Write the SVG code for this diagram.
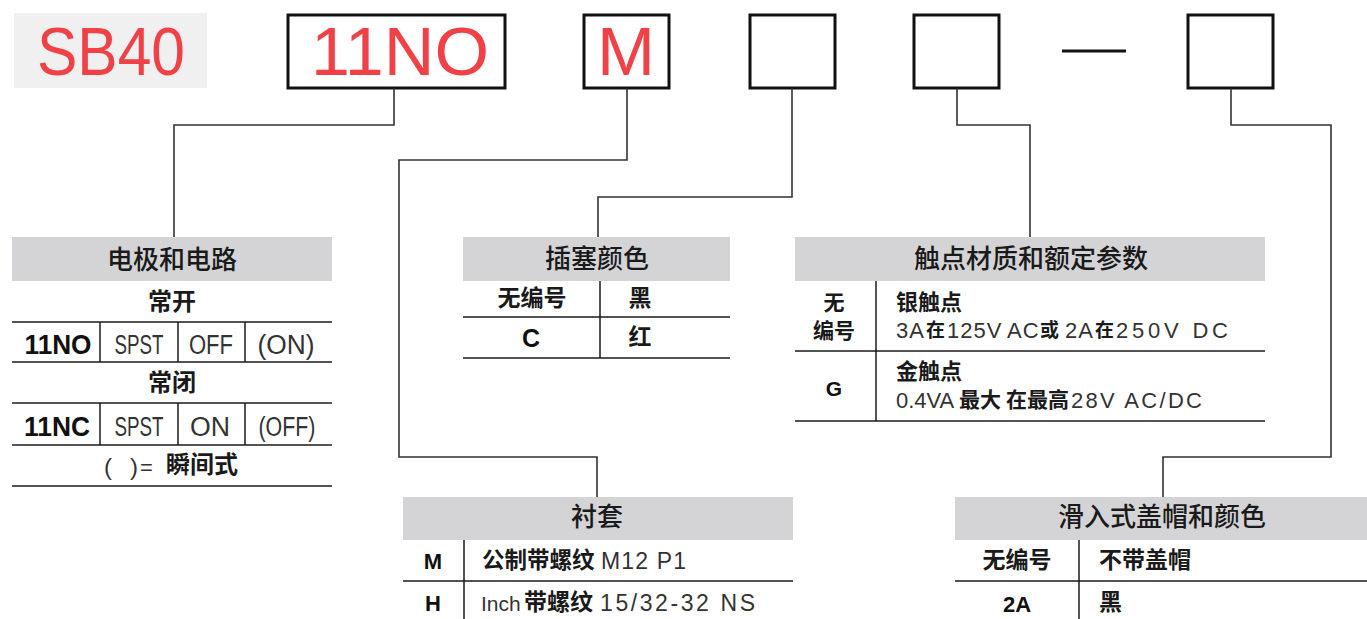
<svg xmlns="http://www.w3.org/2000/svg" width="1367" height="619" viewBox="0 0 1367 619">
<style>
.bg{fill:#ffffff}
.hdr{fill:#d4d4d6}
.ln{stroke:#1a1a1a;stroke-width:1.5;fill:none}
.cn{fill:none;stroke:#333;stroke-width:1.6}
.box{fill:#fff;stroke:#111;stroke-width:3}
.red{font-family:"Liberation Sans",Arial,sans-serif;font-size:68px;fill:#ef4146}
.h{font-family:"Noto Sans CJK SC","Noto Sans",sans-serif;font-size:26px;font-weight:500;fill:#1a1a1a;text-anchor:middle}
.cj{font-family:"Noto Sans CJK SC","Noto Sans",sans-serif;font-weight:700;fill:#1a1a1a}
.lt{font-family:"Liberation Sans",Arial,sans-serif;fill:#333}
.bd{font-family:"Liberation Sans",Arial,sans-serif;font-weight:700;fill:#111}
.m{text-anchor:middle}
</style>
<rect class="bg" x="0" y="0" width="1367" height="619"/>

<g id="code">
  <g id="code-sb40">
    <rect x="14" y="13" width="193" height="75" fill="#f0f0f0"/>
    <text class="red" x="37" y="75" textLength="148" lengthAdjust="spacingAndGlyphs">SB40</text>
  </g>
  <g id="code-11no">
    <rect class="box" x="288" y="15" width="217" height="73"/>
    <text class="red" x="311" y="75" textLength="178" lengthAdjust="spacingAndGlyphs">11NO</text>
  </g>
  <g id="code-m">
    <rect class="box" x="584" y="15" width="85" height="73"/>
    <text class="red" x="597" y="75" textLength="58" lengthAdjust="spacingAndGlyphs">M</text>
  </g>
  <g id="code-3"><rect class="box" x="750" y="15" width="85" height="73"/></g>
  <g id="code-4"><rect class="box" x="914" y="15" width="85" height="73"/></g>
  <g id="code-dash"><rect x="1062" y="49.5" width="64" height="3" fill="#111"/></g>
  <g id="code-5"><rect class="box" x="1188" y="15" width="85" height="73"/></g>
</g>

<g id="connectors">
  <path class="cn" d="M394 88.5V125H174V237"/>
  <path class="cn" d="M627 88.5V160H399V457H597V497"/>
  <path class="cn" d="M792 88.5V197H598V237"/>
  <path class="cn" d="M957 88.5V125H1030V237"/>
  <path class="cn" d="M1231 88.5V125H1331V457H1163V497"/>
</g>

<g id="table-poles">
  <rect class="hdr" x="12" y="237" width="320" height="44"/>
  <text class="h" x="172" y="269">电极和电路</text>
  <text class="cj m" x="172" y="310" font-size="24">常开</text>
  <line class="ln" x1="12" y1="322" x2="332" y2="322"/>
  <line class="ln" x1="100" y1="322" x2="100" y2="362"/>
  <line class="ln" x1="178" y1="322" x2="178" y2="362"/>
  <line class="ln" x1="245" y1="322" x2="245" y2="362"/>
  <text class="bd m" x="58" y="354" font-size="27" textLength="67" lengthAdjust="spacingAndGlyphs">11NO</text>
  <text class="lt m" x="139" y="354" font-size="27" textLength="49" lengthAdjust="spacingAndGlyphs">SPST</text>
  <text class="lt m" x="211" y="354" font-size="27" textLength="44" lengthAdjust="spacingAndGlyphs">OFF</text>
  <text class="lt m" x="286" y="354" font-size="27" textLength="57" lengthAdjust="spacingAndGlyphs">(ON)</text>
  <line class="ln" x1="12" y1="362" x2="332" y2="362"/>
  <text class="cj m" x="172" y="391" font-size="24">常闭</text>
  <line class="ln" x1="12" y1="403" x2="332" y2="403"/>
  <line class="ln" x1="100" y1="403" x2="100" y2="445"/>
  <line class="ln" x1="178" y1="403" x2="178" y2="445"/>
  <line class="ln" x1="245" y1="403" x2="245" y2="445"/>
  <text class="bd m" x="57" y="436" font-size="27" textLength="66" lengthAdjust="spacingAndGlyphs">11NC</text>
  <text class="lt m" x="139" y="436" font-size="27" textLength="49" lengthAdjust="spacingAndGlyphs">SPST</text>
  <text class="lt m" x="210" y="436" font-size="27" textLength="40" lengthAdjust="spacingAndGlyphs">ON</text>
  <text class="lt m" x="287" y="436" font-size="27" textLength="57" lengthAdjust="spacingAndGlyphs">(OFF)</text>
  <line class="ln" x1="12" y1="445" x2="332" y2="445"/>
  <text class="lt" x="104" y="475" font-size="24">(</text>
  <text class="lt" x="130" y="475" font-size="24">)</text>
  <text class="lt" x="140" y="475" font-size="22">=</text>
  <text class="cj" x="166" y="473" font-size="24">瞬间式</text>
  <line class="ln" x1="12" y1="486" x2="332" y2="486"/>
</g>

<g id="table-plug">
  <rect class="hdr" x="463" y="237" width="267" height="44"/>
  <text class="h" x="597" y="268">插塞颜色</text>
  <line class="ln" x1="600" y1="281" x2="600" y2="358"/>
  <text class="cj m" x="532" y="306" font-size="23">无编号</text>
  <text class="cj m" x="640" y="306" font-size="23">黑</text>
  <line class="ln" x1="463" y1="317" x2="730" y2="317"/>
  <text class="bd m" x="531" y="347" font-size="25">C</text>
  <text class="cj m" x="640" y="345" font-size="23">红</text>
  <line class="ln" x1="463" y1="358" x2="730" y2="358"/>
</g>

<g id="table-contact">
  <rect class="hdr" x="795" y="237" width="470" height="44"/>
  <text class="h" x="1031" y="268">触点材质和额定参数</text>
  <line class="ln" x1="876" y1="281" x2="876" y2="421"/>
  <text class="cj m" x="834" y="310" font-size="21">无</text>
  <text class="cj m" x="834" y="338" font-size="21">编号</text>
  <text class="cj" x="896" y="310" font-size="22">银触点</text>
  <text class="lt" x="896" y="338" font-size="22" letter-spacing="1">3A</text>
  <text class="cj" x="926" y="337" font-size="19">在</text>
  <text class="lt" x="947" y="338" font-size="22" letter-spacing="1">125V</text>
  <text class="lt" x="1007" y="338" font-size="22" letter-spacing="1">AC</text>
  <text class="cj" x="1040" y="337" font-size="19">或</text>
  <text class="lt" x="1065" y="338" font-size="22" letter-spacing="1">2A</text>
  <text class="cj" x="1095" y="337" font-size="19">在</text>
  <text class="lt" x="1116" y="338" font-size="22" textLength="112" lengthAdjust="spacing">250V DC</text>
  <line class="ln" x1="795" y1="351" x2="1265" y2="351"/>
  <text class="bd m" x="834" y="396" font-size="21">G</text>
  <text class="cj" x="896" y="379" font-size="22">金触点</text>
  <text class="lt" x="896" y="408" font-size="22">0.4VA</text>
  <text class="cj" x="959" y="407" font-size="21">最大</text>
  <text class="cj" x="1006" y="407" font-size="21">在最高</text>
  <text class="lt" x="1071" y="408" font-size="22" textLength="131" lengthAdjust="spacing">28V AC/DC</text>
  <line class="ln" x1="795" y1="421" x2="1265" y2="421"/>
</g>

<g id="table-bushing">
  <rect class="hdr" x="403" y="497" width="390" height="43"/>
  <text class="h" x="597" y="526">衬套</text>
  <line class="ln" x1="464" y1="540" x2="464" y2="619"/>
  <text class="bd m" x="433" y="569" font-size="22">M</text>
  <text class="cj" x="482" y="568" font-size="22.5">公制带螺纹</text>
  <text class="lt" x="601" y="569" font-size="23" textLength="85" lengthAdjust="spacing">M12 P1</text>
  <line class="ln" x1="403" y1="581" x2="793" y2="581"/>
  <text class="bd m" x="433" y="611" font-size="22">H</text>
  <text class="lt" x="481" y="611" font-size="21">Inch</text>
  <text class="cj" x="524" y="610" font-size="23">带螺纹</text>
  <text class="lt" x="600" y="611" font-size="23" textLength="155" lengthAdjust="spacing">15/32-32 NS</text>
</g>

<g id="table-cap">
  <rect class="hdr" x="955" y="497" width="412" height="43"/>
  <text class="h" x="1162" y="526">滑入式盖帽和颜色</text>
  <line class="ln" x1="1079" y1="540" x2="1079" y2="619"/>
  <text class="cj m" x="1017" y="568" font-size="23">无编号</text>
  <text class="cj" x="1099" y="568" font-size="23">不带盖帽</text>
  <line class="ln" x1="955" y1="581" x2="1367" y2="581"/>
  <text class="bd m" x="1017" y="612" font-size="22">2A</text>
  <text class="cj" x="1099" y="610" font-size="23">黑</text>
</g>
</svg>
